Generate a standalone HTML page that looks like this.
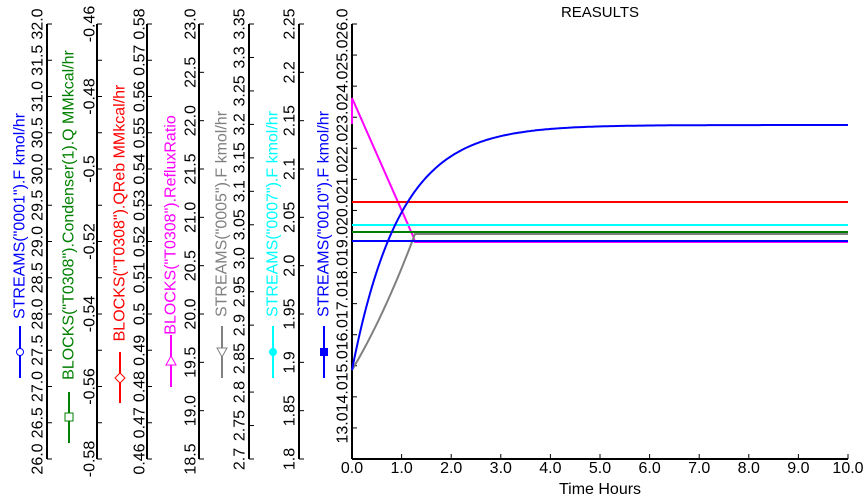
<!DOCTYPE html>
<html><head><meta charset="utf-8"><style>
html,body{margin:0;padding:0;background:#fff;}
svg{display:block;font-family:"Liberation Sans",Arial,sans-serif;}
</style></head><body>
<svg id="s" width="865" height="497" viewBox="0 0 865 497" xmlns="http://www.w3.org/2000/svg">
<rect width="865" height="497" fill="#fff"/>
<text x="600" y="17" font-size="15" text-anchor="middle">REASULTS</text>
<g id="axes"></g>
<g fill="none" stroke-width="2">
<line x1="352" y1="98" x2="352" y2="124" stroke="#ff00ff"/>
<polyline stroke="#ff00ff" points="352,98 413,236 415,242 848,242"/>
<line x1="352" y1="202" x2="848" y2="202" stroke="#ff0000"/>
<line x1="352" y1="225" x2="848" y2="225" stroke="#00ffff"/>
<line x1="352" y1="232" x2="848" y2="232" stroke="#008000"/>
<polyline id="gray" stroke="#808080" points=""/>
<line x1="352" y1="241" x2="848" y2="241" stroke="#0000ff"/>
<polyline id="blue" stroke="#0000ff" points=""/>
</g>
<g font-size="16" text-anchor="middle">
<text x="352" y="473">0.0</text><text x="401.6" y="473">1.0</text><text x="451.2" y="473">2.0</text><text x="500.8" y="473">3.0</text><text x="550.4" y="473">4.0</text><text x="600" y="473">5.0</text><text x="649.6" y="473">6.0</text><text x="699.2" y="473">7.0</text><text x="748.8" y="473">8.0</text><text x="798.4" y="473">9.0</text><text x="848" y="473">10.0</text>
<text x="600" y="494">Time Hours</text>
</g>
</svg>
<script>
var NS="http://www.w3.org/2000/svg",g=document.getElementById("axes");
function el(t,a,txt){var e=document.createElementNS(NS,t);for(var k in a)e.setAttribute(k,a[k]);if(txt!==undefined)e.textContent=txt;g.appendChild(e);return e;}
var T=24,B=459;
var axes=[
{x:47,lx:38,gx:20,c:"#0000ff",n:13,lab:function(i){return (26+i*0.5).toFixed(1)},t:"STREAMS(\"0001\").F kmol/hr",tc:216,l1:326,l2:378,m:"circle",my:352},
{x:97,lx:90,gx:69,c:"#008000",n:13,lab:function(i){return i%2==0?String(+(-0.58+i*0.01).toFixed(2)):""},t:"BLOCKS(\"T0308\").Condenser(1).Q MMkcal/hr",tc:215,l1:392,l2:443,m:"square",my:417},
{x:147,lx:140,gx:120,c:"#ff0000",n:13,lab:function(i){return String(+(0.46+i*0.01).toFixed(2))},t:"BLOCKS(\"T0308\").QReb MMkcal/hr",tc:213,l1:352,l2:403,m:"diamond",my:378},
{x:199,lx:191,gx:171,c:"#ff00ff",n:10,lab:function(i){return (18.5+i*0.5).toFixed(1)},t:"BLOCKS(\"T0308\").RefluxRatio",tc:225,l1:335,l2:387,m:"tri",my:361},
{x:249,lx:240,gx:222,c:"#808080",n:14,lab:function(i){var v=+(2.7+i*0.05).toFixed(2);return v==3?"3.0":String(v)},t:"STREAMS(\"0005\").F kmol/hr",tc:214,l1:326,l2:378,m:"trid",my:352},
{x:299,lx:290,gx:273,c:"#00ffff",n:10,lab:function(i){var v=+(1.8+i*0.05).toFixed(2);return v==2?"2.0":String(v)},t:"STREAMS(\"0007\").F kmol/hr",tc:214,l1:326,l2:378,m:"fcircle",my:352},
{x:352,lx:343,gx:324,c:"#0000ff",n:15,lab:function(i){return i==0?"":(12+i).toFixed(1)},t:"STREAMS(\"0010\").F kmol/hr",tc:214,l1:326,l2:378,m:"fsquare",my:352}
];
axes.forEach(function(a){
 el("line",{x1:a.x,y1:T,x2:a.x,y2:B,stroke:"#000","stroke-width":2});
 for(var i=0;i<a.n;i++){var y=B-(B-T)*i/(a.n-1);
  el("line",{x1:a.x,y1:y,x2:a.x+5,y2:y,stroke:"#000","stroke-width":1});
  var s=a.lab(i);if(s)el("text",{x:0,y:0,"font-size":16,"text-anchor":"middle","dominant-baseline":"central",transform:"translate("+a.lx+","+y+") rotate(-90)"},s);}
 el("text",{x:0,y:0,"font-size":16,fill:a.c,"text-anchor":"middle","dominant-baseline":"central",transform:"translate("+a.gx+","+a.tc+") rotate(-90)"},a.t);
 el("line",{x1:a.gx,y1:a.l1,x2:a.gx,y2:a.l2,stroke:a.c,"stroke-width":2});
 var x=a.gx,y=a.my;
 if(a.m=="circle")el("circle",{cx:x,cy:y,r:3.5,fill:"#fff",stroke:a.c});
 if(a.m=="fcircle")el("circle",{cx:x,cy:y,r:4,fill:a.c});
 if(a.m=="square")el("rect",{x:x-4,y:y-4,width:8,height:8,fill:"#fff",stroke:a.c});
 if(a.m=="fsquare")el("rect",{x:x-4,y:y-4,width:8,height:8,fill:a.c});
 if(a.m=="diamond")el("polygon",{points:(x)+","+(y-5)+" "+(x+5)+","+y+" "+x+","+(y+5)+" "+(x-5)+","+y,fill:"#fff",stroke:a.c});
 if(a.m=="tri")el("polygon",{points:x+","+(y-5)+" "+(x+5)+","+(y+4)+" "+(x-5)+","+(y+4),fill:"#fff",stroke:a.c});
 if(a.m=="trid")el("polygon",{points:x+","+(y+5)+" "+(x+5)+","+(y-4)+" "+(x-5)+","+(y-4),fill:"#fff",stroke:a.c});
});
for(var i=0;i<=10;i++){var x=352+49.6*i;var e=document.createElementNS(NS,"line");e.setAttribute("x1",x);e.setAttribute("x2",x);e.setAttribute("y1",459);e.setAttribute("y2",454);e.setAttribute("stroke","#000");g.appendChild(e);}
var xl=document.createElementNS(NS,"line");xl.setAttribute("x1",352);xl.setAttribute("x2",848);xl.setAttribute("y1",459);xl.setAttribute("y2",459);xl.setAttribute("stroke","#000");xl.setAttribute("stroke-width",2);g.appendChild(xl);
var p=[];for(var x=352;x<=848;x+=2){var t=(x-352)/49.6;p.push(x+","+(125+245*Math.exp(-t/0.97)).toFixed(1));}
document.getElementById("blue").setAttribute("points",p.join(" "));
var q=[];for(var x=352;x<=415;x+=3){var u=(x-352)/63;q.push(x+","+(370-136*(u+0.3*u*u)/1.3).toFixed(1));}
q.push("418,234");q.push("848,234");
document.getElementById("gray").setAttribute("points",q.join(" "));
</script>
</body></html>
